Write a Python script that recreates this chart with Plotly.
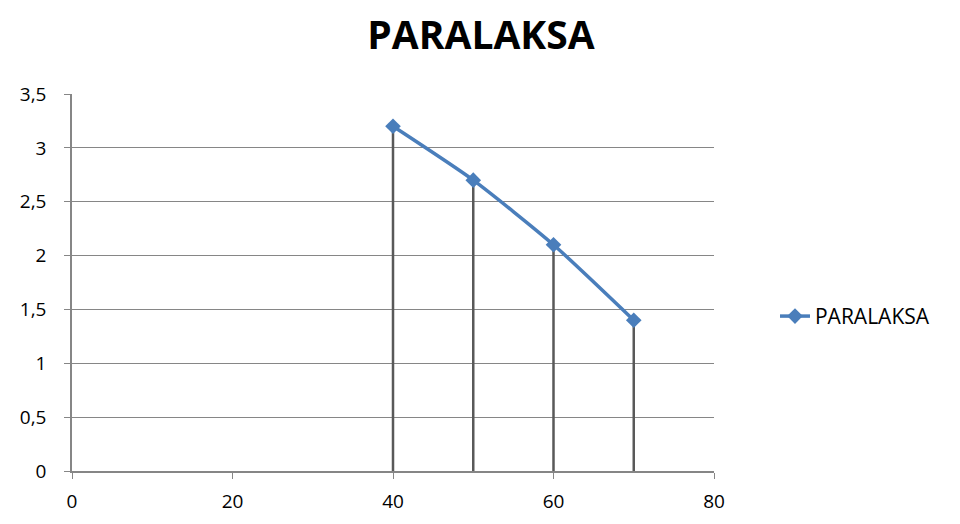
import plotly.graph_objects as go

x_vals = [40, 50, 60, 70]
y_vals = [3.2, 2.7, 2.1, 1.4]
series_name = "PARALAKSA"
title_text = "PARALAKSA"

drop_x, drop_y = [], []
for xv, yv in zip(x_vals, y_vals):
    drop_x += [xv, xv, None]
    drop_y += [0, yv, None]

fig = go.Figure()
fig.add_trace(go.Scatter(
    x=drop_x, y=drop_y, mode="lines",
    line=dict(color="#595959", width=2.5),
    showlegend=False, hoverinfo="skip"))
fig.add_trace(go.Scatter(
    x=x_vals, y=y_vals, mode="lines+markers", name=series_name,
    line=dict(color="#4A7EBB", width=3.5, shape="spline", smoothing=0.6),
    marker=dict(symbol="diamond", size=12, color="#4A7EBB")))

font_family = "Open Sans, Noto Sans, sans-serif"
fig.update_layout(
    width=960, height=524,
    paper_bgcolor="white", plot_bgcolor="white",
    separators=",.",
    title=dict(text="<b>" + title_text + "</b>", x=473 / 960, xanchor="center",
               xref="container", y=1 - 27 / 524, yanchor="middle",
               font=dict(family=font_family, size=39, color="black")),
    margin=dict(l=62, r=254, t=86, b=61),
    font=dict(family=font_family, size=17, color="black"),
    legend=dict(x=1.095, xanchor="left", xref="paper", y=0.41, yanchor="middle",
                font=dict(size=21), bgcolor="rgba(0,0,0,0)"),
    xaxis=dict(range=[0, 80], dtick=20, tick0=0, showgrid=False, zeroline=False,
               showline=True, linecolor="#868686", linewidth=1.5,
               ticks="outside", ticklen=6, tickcolor="#868686",
               tickfont=dict(size=19), ticklabelstandoff=6),
    yaxis=dict(range=[0, 3.5], dtick=0.5, tick0=0, showgrid=True,
               gridcolor="#868686", gridwidth=1.2, zeroline=False,
               showline=True, linecolor="#868686", linewidth=1.5,
               ticks="outside", ticklen=6, tickcolor="#868686",
               tickfont=dict(size=19), ticklabelstandoff=14),
)
fig.write_html("out.html")
